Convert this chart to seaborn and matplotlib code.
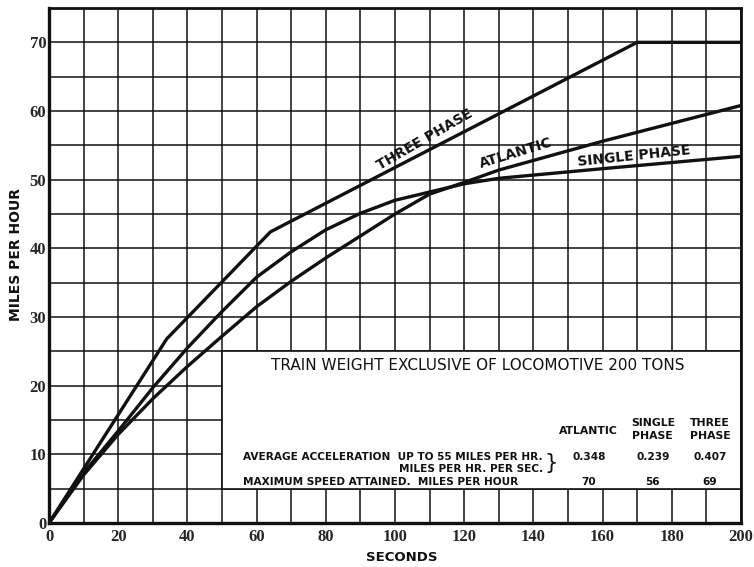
import numpy as np
import pandas as pd
import matplotlib
matplotlib.use("Agg")
import matplotlib.pyplot as plt
import seaborn as sns
from matplotlib.patches import Rectangle

# Speed-time curves: seconds after start vs. miles per hour
three_phase_t = [0, 34, 64, 170, 200]
three_phase_v = [0, 26.8, 42.4, 70, 70]

atlantic_t = [0, 10, 20, 30, 40, 50, 60, 70, 80, 90, 100, 110, 120, 130, 160, 200]
atlantic_v = [0, 7.0, 12.9, 18.1, 22.8, 27.2, 31.5, 35.2, 38.6, 41.8, 45.0, 47.9,
              49.6, 51.4, 55.6, 60.8]

single_phase_t = [0, 10, 20, 30, 40, 50, 60, 70, 80, 90, 100, 110, 120, 130, 160, 200]
single_phase_v = [0, 7.3, 13.4, 19.7, 25.5, 30.8, 35.8, 39.5, 42.7, 45.1, 47.0, 48.2,
                  49.4, 50.2, 51.6, 53.4]

x_ticks = list(range(0, 201, 20))
y_ticks = list(range(0, 71, 10))

# Summary table
table_title = "TRAIN WEIGHT EXCLUSIVE OF LOCOMOTIVE 200 TONS"
table_columns = ["ATLANTIC", "SINGLE\nPHASE", "THREE\nPHASE"]
avg_acceleration = ["0.348", "0.239", "0.407"]
max_speed = ["70", "56", "69"]

INK = "#111111"

sns.set_style("white")
plt.rcParams["font.family"] = ["DejaVu Sans"]

df = pd.concat([
    pd.DataFrame({"seconds": three_phase_t, "mph": three_phase_v, "series": "THREE PHASE"}),
    pd.DataFrame({"seconds": atlantic_t, "mph": atlantic_v, "series": "ATLANTIC"}),
    pd.DataFrame({"seconds": single_phase_t, "mph": single_phase_v, "series": "SINGLE PHASE"}),
], ignore_index=True)

fig = plt.figure(figsize=(7.54, 5.67), dpi=100)
ax = fig.add_axes([49 / 754, 1 - 523 / 567, 692 / 754, 515 / 567])

sns.lineplot(data=df, x="seconds", y="mph", hue="series",
             palette={"THREE PHASE": INK, "ATLANTIC": INK, "SINGLE PHASE": INK},
             linewidth=2.4, legend=False, sort=False, estimator=None, ax=ax, zorder=3)

ax.set_xlim(0, 200)
ax.set_ylim(0, 75)
ax.set_xticks(x_ticks)
ax.set_yticks(y_ticks)
ax.set_xticks(np.arange(0, 201, 10), minor=True)
ax.set_yticks(np.arange(0, 76, 5), minor=True)
ax.set_axisbelow(True)
ax.grid(True, which="both", color=INK, linewidth=1.1)
ax.tick_params(which="both", length=0)
ax.tick_params(axis="x", pad=4)
ax.tick_params(axis="y", pad=2)
for lbl in ax.get_xticklabels() + ax.get_yticklabels():
    lbl.set_fontfamily("Liberation Serif")
    lbl.set_fontweight("bold")
    lbl.set_fontsize(12)
for side in ["left", "bottom"]:
    ax.spines[side].set_linewidth(2.4)
for side in ["top", "right"]:
    ax.spines[side].set_linewidth(2.0)
for sp in ax.spines.values():
    sp.set_color(INK)

ax.set_xlabel("SECONDS", fontsize=9.5, fontweight="bold", color=INK)
ax.set_ylabel("MILES PER HOUR", fontsize=10, fontweight="bold", color=INK)
ax.xaxis.set_label_coords(0.51, -0.054)
ax.yaxis.set_label_coords(-0.038, 0.522)

# Curve labels
ax.text(108.7, 55.9, "THREE PHASE", rotation=30, ha="center", va="center",
        fontsize=10, fontweight="bold", color=INK, zorder=4)
ax.text(135, 53.8, "ATLANTIC", rotation=17, ha="center", va="center",
        fontsize=10, fontweight="bold", color=INK, zorder=4)
ax.text(169, 53.4, "SINGLE PHASE", rotation=6, ha="center", va="center",
        fontsize=10, fontweight="bold", color=INK, zorder=4)

# Table panel covering the grid
ax.add_patch(Rectangle((50, 5), 150, 20, facecolor="white", edgecolor=INK,
                       linewidth=1.2, zorder=2))
ax.text(124, 23, table_title, ha="center", va="center", fontsize=11,
        color=INK, zorder=4)

small = dict(fontsize=7.6, fontweight="bold", color=INK, zorder=4)

col_x = [156, 174.5, 191]
for x, name in zip(col_x, table_columns):
    y = 13.4 if "\n" not in name else 13.6
    ax.text(x, y, name, ha="center", va="center", linespacing=1.35,
            **{**small, "fontsize": 7.8})

ax.text(142.8, 9.6, "AVERAGE ACCELERATION  UP TO 55 MILES PER HR.", ha="right",
        va="center", **small)
ax.text(142.8, 7.9, "MILES PER HR. PER SEC.", ha="right", va="center", **small)
ax.text(145.2, 8.8, "}", ha="center", va="center", fontsize=15, color=INK, zorder=4)
for x, v in zip(col_x, avg_acceleration):
    ax.text(x, 9.6, v, ha="center", va="center", **small)

ax.text(135.5, 5.9, "MAXIMUM SPEED ATTAINED.  MILES PER HOUR", ha="right",
        va="center", **small)
for x, v in zip(col_x, max_speed):
    ax.text(x, 5.9, v, ha="center", va="center", **small)

fig.savefig("out.png", dpi=100, facecolor="white")
